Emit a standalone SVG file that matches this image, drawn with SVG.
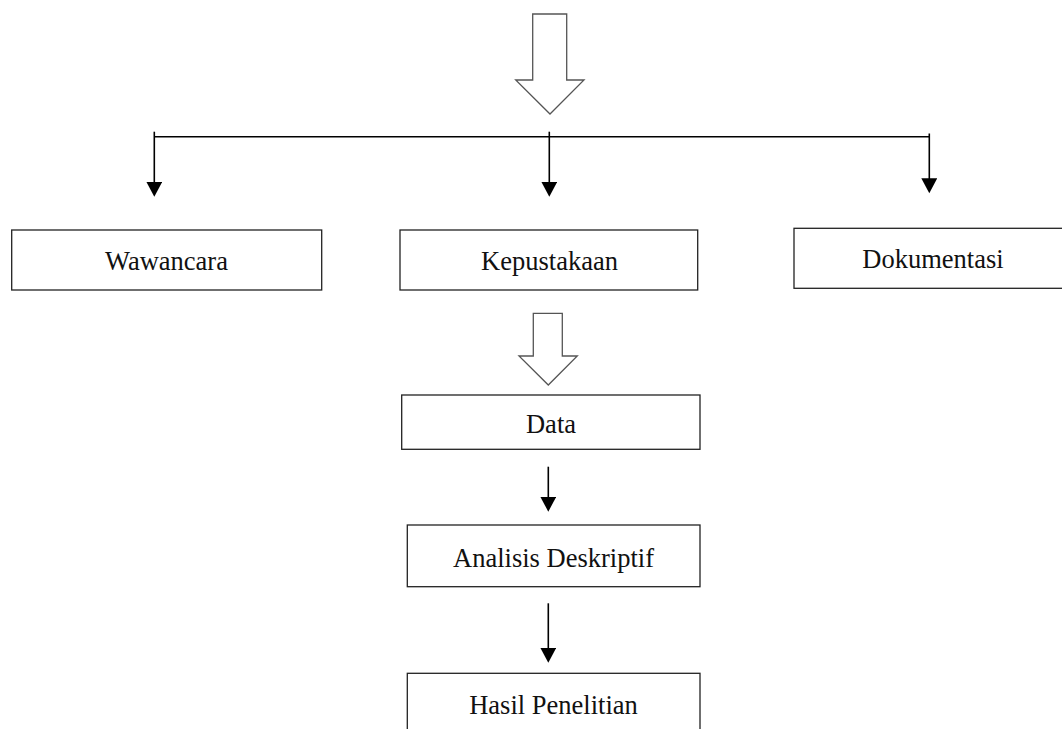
<svg xmlns="http://www.w3.org/2000/svg" width="1062" height="729" viewBox="0 0 1062 729">
  <defs>
    <style>
      .box { fill: #ffffff; stroke: #222222; stroke-width: 1.3; }
      .lbl { font-family: "Liberation Serif", "Times New Roman", serif; font-size: 26.5px; fill: #111111; text-anchor: middle; }
      .ln { stroke: #000000; stroke-width: 1.6; fill: none; }
      .block { fill: #ffffff; stroke: #555555; stroke-width: 1.3; stroke-linejoin: miter; }
    </style>
    <marker id="ah" markerUnits="userSpaceOnUse" markerWidth="16" markerHeight="16" viewBox="0 0 16 16" refX="7" refY="8" orient="auto">
      <path d="M0,0 L15,8 L0,16 Z" fill="#000000"/>
    </marker>
  </defs>
  <rect width="1062" height="729" fill="#ffffff"/>

  <g id="connectors">
    <polygon class="block" points="532.7,14 566.7,14 566.7,80 584,80 550,114 515.7,80 532.7,80"/>
    <line class="ln" x1="154.3" y1="136.7" x2="929.3" y2="136.7"/>
    <line class="ln" x1="154.3" y1="131.7" x2="154.3" y2="188.7" marker-end="url(#ah)"/>
    <line class="ln" x1="549.3" y1="131.7" x2="549.3" y2="188.7" marker-end="url(#ah)"/>
    <line class="ln" x1="929.3" y1="133.5" x2="929.3" y2="185.3" marker-end="url(#ah)"/>
    <polygon class="block" points="533.3,313.3 562.3,313.3 562.3,356 577.3,356 548.3,385 519,356 533.3,356"/>
    <line class="ln" x1="548.3" y1="466.7" x2="548.3" y2="503.7" marker-end="url(#ah)"/>
    <line class="ln" x1="548.3" y1="603.3" x2="548.3" y2="654.7" marker-end="url(#ah)"/>
  </g>

  <g id="wawancara">
    <rect class="box" x="11.7" y="230" width="310" height="60"/>
    <text class="lbl" x="166.5" y="269.5">Wawancara</text>
  </g>
  <g id="kepustakaan">
    <rect class="box" x="400" y="230" width="297.7" height="60"/>
    <text class="lbl" x="549.5" y="269.5">Kepustakaan</text>
  </g>
  <g id="dokumentasi">
    <rect class="box" x="794" y="228.3" width="280" height="60"/>
    <text class="lbl" x="933" y="267.5">Dokumentasi</text>
  </g>
  <g id="data">
    <rect class="box" x="401.7" y="395" width="298.3" height="54.3"/>
    <text class="lbl" x="551" y="433">Data</text>
  </g>
  <g id="analisis">
    <rect class="box" x="407.3" y="525" width="292.7" height="61.7"/>
    <text class="lbl" x="553.5" y="566.5">Analisis Deskriptif</text>
  </g>
  <g id="hasil">
    <rect class="box" x="407.3" y="673.3" width="292.7" height="70"/>
    <text class="lbl" x="553.5" y="713.5">Hasil Penelitian</text>
  </g>
</svg>
